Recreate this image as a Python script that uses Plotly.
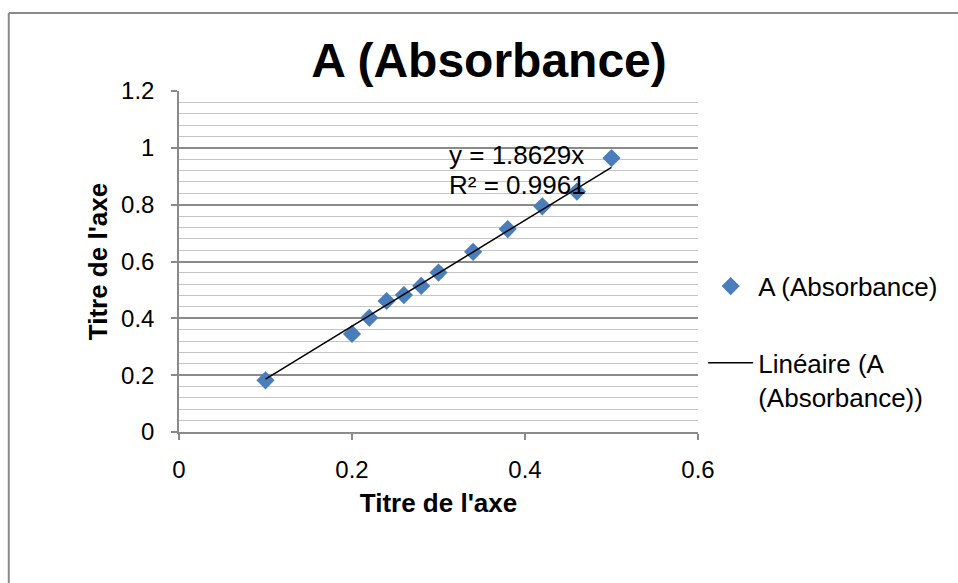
import plotly.graph_objects as go

# Titration data: concentration vs measured absorbance
conc = [0.10, 0.20, 0.22, 0.24, 0.26, 0.28, 0.30, 0.34, 0.38, 0.42, 0.46, 0.50]
absorbance = [0.182, 0.345, 0.402, 0.461, 0.482, 0.514, 0.561, 0.634, 0.714, 0.794, 0.846, 0.964]

# Linear fit through the origin (as reported on the chart)
slope = 1.8629
r_squared = 0.9961

series_name = "A (Absorbance)"
trend_name = "Linéaire (A<br>(Absorbance))"
axis_title = "Titre de l'axe"

x_ticks = [0, 0.2, 0.4, 0.6]
y_ticks = [0, 0.2, 0.4, 0.6, 0.8, 1, 1.2]

FONT = "Liberation Sans, Arial, sans-serif"
GRID_MAJOR = "#8a8a8a"
GRID_MINOR = "#c4c4c4"

trend_x = [min(conc), max(conc)]
trend_y = [slope * v for v in trend_x]

fig = go.Figure()
fig.add_trace(go.Scatter(
    x=conc, y=absorbance, mode="markers", name=series_name,
    legendgroup="data",
    marker=dict(symbol="diamond", size=14, color="#4a7ebb", line=dict(width=0)),
))
fig.add_trace(go.Scatter(
    x=trend_x, y=trend_y, mode="lines", name=trend_name,
    legendgroup="trend",
    line=dict(color="black", width=1.5),
))

# Trendline equation and R² label, one annotation per line
eq_lines = [f"y = {slope}x", f"R² = {r_squared}"]
for text, ypos in zip(eq_lines, [0.975, 0.87]):
    fig.add_annotation(
        x=0.31, y=ypos, xref="x", yref="y", xanchor="left", yanchor="middle",
        text=text, showarrow=False, align="left",
        font=dict(family=FONT, size=26, color="black"),
    )

# Chart-area frame (top and left edges visible in the window)
fig.add_shape(type="line", xref="paper", yref="paper",
              x0=-0.328, y0=-0.5, x1=-0.328, y1=1.2287,
              line=dict(color="#8a8a8a", width=2))
fig.add_shape(type="line", xref="paper", yref="paper",
              x0=-0.328, y0=1.2287, x1=1.6, y1=1.2287,
              line=dict(color="#8a8a8a", width=2))

fig.update_layout(
    width=958, height=583,
    margin=dict(l=179, r=260, t=91, b=151),
    paper_bgcolor="white", plot_bgcolor="white",
    font=dict(family=FONT, size=24, color="black"),
    title=dict(text="<b>A (Absorbance)</b>", x=489 / 958, xanchor="center",
               y=1 - 60 / 583, yanchor="middle", yref="container",
               font=dict(family=FONT, size=48, color="black")),
    showlegend=True,
    legend=dict(x=1.01, y=0.265, xanchor="left", yanchor="middle",
                font=dict(family=FONT, size=26, color="black"),
                itemwidth=45,
                tracegroupgap=40, valign="top", bgcolor="rgba(0,0,0,0)"),
    xaxis=dict(
        range=[0, 0.6], tickvals=x_ticks, ticktext=[f"{v:g}" for v in x_ticks],
        showgrid=False, zeroline=False,
        showline=True, linecolor=GRID_MAJOR, linewidth=1.5,
        ticks="outside", ticklen=6, tickcolor=GRID_MAJOR, tickwidth=1.5,
        ticklabelstandoff=9,
        title=dict(text=f"<b>{axis_title}</b>", standoff=12,
                   font=dict(family=FONT, size=26, color="black")),
    ),
    yaxis=dict(
        range=[0, 1.2], tickvals=y_ticks, ticktext=[f"{v:g}" for v in y_ticks],
        showgrid=True, gridcolor=GRID_MAJOR, gridwidth=1.5, zeroline=False,
        showline=True, linecolor=GRID_MAJOR, linewidth=1.5,
        ticks="outside", ticklen=6, tickcolor=GRID_MAJOR, tickwidth=1.5,
        ticklabelstandoff=12,
        minor=dict(dtick=0.04, showgrid=True, gridcolor=GRID_MINOR, gridwidth=1.2),
        title=dict(text=f"<b>{axis_title}</b>", standoff=6,
                   font=dict(family=FONT, size=26, color="black")),
    ),
)

fig.write_html("out.html")
